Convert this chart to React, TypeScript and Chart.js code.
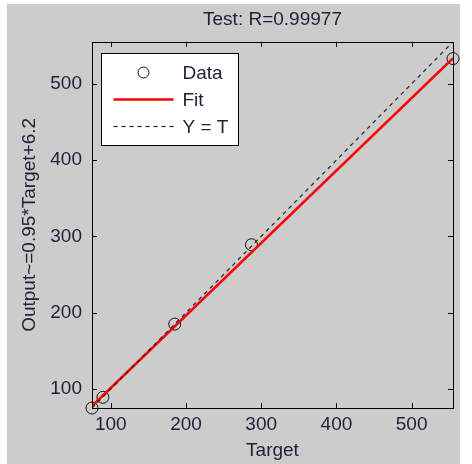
import React, { useEffect, useRef } from 'react';
import { Chart, registerables } from 'chart.js';

Chart.register(...registerables);

const TITLE = 'Test: R=0.99977';
const X_LABEL = 'Target';
const Y_LABEL = 'Output~=0.95*Target+6.2';
const seriesLabels = ['Data', 'Fit', 'Y = T'];
const dataTargets = [75, 89.5, 185, 287, 555];
const dataOutputs = [75, 89, 185, 289, 533];
const fitTargets = [75, 555];
const fitOutputs = [77.5, 533.5];
const identityTargets = [75, 555];
const identityOutputs = [75, 555];
const xTicks = [100, 200, 300, 400, 500];
const yTicks = [100, 200, 300, 400, 500];
const axisMin = 75;
const axisMax = 555;

const FONT = "'Liberation Sans', Arial, sans-serif";
const TEXT = '#1f1f38';
const FONT_SIZE = 19;

const framePlugin = {
  id: 'matlabFrame',
  afterDatasetsDraw(chart: any) {
    const { ctx, chartArea: a, scales } = chart;
    ctx.save();
    ctx.strokeStyle = '#000';
    ctx.lineWidth = 1;
    ctx.beginPath();
    const tl = 5;
    scales.x.ticks.forEach((t: any) => {
      const px = Math.round(scales.x.getPixelForValue(t.value)) + 0.5;
      ctx.moveTo(px, a.bottom);
      ctx.lineTo(px, a.bottom - tl);
      ctx.moveTo(px, a.top);
      ctx.lineTo(px, a.top + tl);
    });
    scales.y.ticks.forEach((t: any) => {
      const py = Math.round(scales.y.getPixelForValue(t.value)) + 0.5;
      ctx.moveTo(a.left, py);
      ctx.lineTo(a.left + tl, py);
      ctx.moveTo(a.right, py);
      ctx.lineTo(a.right - tl, py);
    });
    ctx.stroke();
    ctx.strokeRect(Math.round(a.left) + 0.5, Math.round(a.top) + 0.5, Math.round(a.right - a.left), Math.round(a.bottom - a.top));
    ctx.restore();
  },
};

const legendPlugin = {
  id: 'matlabLegend',
  afterDraw(chart: any) {
    const { ctx, chartArea: a } = chart;
    const bx = Math.round(a.left + 9) + 0.5;
    const by = Math.round(a.top + 11) + 0.5;
    const bw = 137;
    const bh = 92;
    ctx.save();
    ctx.fillStyle = '#fff';
    ctx.fillRect(bx, by, bw, bh);
    ctx.strokeStyle = '#000';
    ctx.lineWidth = 1;
    ctx.strokeRect(bx, by, bw, bh);
    const rows = [19, 46, 73];
    chart.data.datasets.forEach((ds: any, i: number) => {
      const y = by + rows[i];
      const x0 = bx + 12;
      const x1 = bx + 72;
      ctx.save();
      if (ds.showLine) {
        ctx.strokeStyle = ds.borderColor;
        ctx.lineWidth = ds.borderWidth;
        ctx.setLineDash(ds.borderDash || []);
        ctx.beginPath();
        ctx.moveTo(x0, y);
        ctx.lineTo(x1, y);
        ctx.stroke();
      } else {
        ctx.strokeStyle = ds.borderColor;
        ctx.lineWidth = ds.borderWidth;
        ctx.beginPath();
        ctx.arc((x0 + x1) / 2, y, ds.pointRadius - 0.5, 0, Math.PI * 2);
        ctx.stroke();
      }
      ctx.restore();
      ctx.fillStyle = TEXT;
      ctx.font = `${FONT_SIZE}px ${FONT}`;
      ctx.textBaseline = 'middle';
      ctx.textAlign = 'left';
      ctx.fillText(ds.label, bx + 81, y + 1);
    });
    ctx.restore();
  },
};

export default function App() {
  const ref = useRef<HTMLCanvasElement | null>(null);
  useEffect(() => {
    if (!ref.current) return;
    const font = { family: FONT, size: FONT_SIZE, weight: 'normal' as const };
    const chart = new Chart(ref.current, {
      type: 'scatter',
      data: {
        datasets: [
          {
            label: seriesLabels[0],
            data: dataTargets.map((x, i) => ({ x, y: dataOutputs[i] })),
            showLine: false,
            pointStyle: 'circle',
            pointRadius: 6,
            pointBorderWidth: 1,
            borderWidth: 1,
            borderColor: '#111',
            pointBorderColor: '#111',
            backgroundColor: 'rgba(0,0,0,0)',
            pointBackgroundColor: 'rgba(0,0,0,0)',
            clip: false as any,
            order: 2,
          },
          {
            label: seriesLabels[1],
            data: fitTargets.map((x, i) => ({ x, y: fitOutputs[i] })),
            showLine: true,
            borderColor: '#ff0000',
            borderWidth: 2.5,
            pointRadius: 0,
            order: 1,
          },
          {
            label: seriesLabels[2],
            data: identityTargets.map((x, i) => ({ x, y: identityOutputs[i] })),
            showLine: true,
            borderColor: '#222',
            borderWidth: 1.2,
            borderDash: [4, 4],
            pointRadius: 0,
            order: 0,
          },
        ],
      },
      options: {
        animation: false,
        responsive: false,
        events: [],
        layout: { padding: { left: 0, right: 3, top: 0, bottom: 0 } },
        plugins: {
          legend: { display: false },
          tooltip: { enabled: false },
          title: {
            display: true,
            text: TITLE,
            fullSize: false,
            color: TEXT,
            font,
            padding: { top: 4, bottom: 11 },
          },
        },
        scales: {
          x: {
            type: 'linear',
            position: 'bottom',
            min: axisMin,
            max: axisMax,
            grid: { display: false, drawTicks: false },
            border: { display: false },
            ticks: { color: TEXT, font, padding: 5 },
            afterBuildTicks: (s: any) => {
              s.ticks = xTicks.map((v) => ({ value: v }));
            },
            afterFit: (s: any) => {
              s.height = 56;
            },
            title: { display: true, text: X_LABEL, color: TEXT, font, padding: { top: 0, bottom: 2 } },
          },
          y: {
            type: 'linear',
            position: 'left',
            min: axisMin,
            max: axisMax,
            grid: { display: false, drawTicks: false },
            border: { display: false },
            ticks: { color: TEXT, font, padding: 10 },
            afterBuildTicks: (s: any) => {
              s.ticks = yTicks.map((v) => ({ value: v }));
            },
            afterFit: (s: any) => {
              s.width = 85;
            },
            title: { display: true, text: Y_LABEL, color: TEXT, font, padding: { top: 11, bottom: 0 } },
          },
        },
      } as any,
      plugins: [framePlugin, legendPlugin],
    });
    return () => chart.destroy();
  }, []);

  return (
    <div style={{ position: 'absolute', left: 0, top: 0, width: 472, height: 464, background: '#fff' }}>
      <div style={{ position: 'absolute', left: 7, top: 4, width: 453, height: 460, background: '#cccccc' }}>
        <canvas ref={ref} width={453} height={460} style={{ width: 453, height: 460, display: 'block' }} />
      </div>
    </div>
  );
}
